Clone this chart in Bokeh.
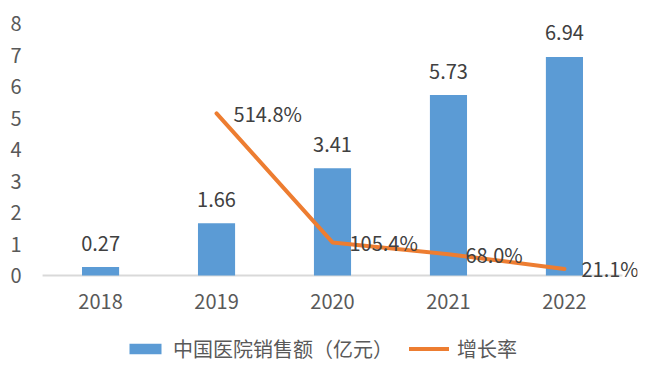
from bokeh.plotting import figure
from bokeh.layouts import column
from bokeh.models import FactorRange, Range1d, Legend, LegendItem, FixedTicker
from bokeh.core.properties import value
from bokeh.embed import file_html
from bokeh.resources import INLINE

years = ["2018", "2019", "2020", "2021", "2022"]
sales = [0.27, 1.66, 3.41, 5.73, 6.94]
sales_labels = ["0.27", "1.66", "3.41", "5.73", "6.94"]
growth_years = ["2019", "2020", "2021", "2022"]
growth = [514.8, 105.4, 68.0, 21.1]
growth_labels = ["514.8%", "105.4%", "68.0%", "21.1%"]
y_ticks = [0, 1, 2, 3, 4, 5, 6, 7, 8]
series_names = ["中国医院销售额（亿元）", "增长率"]

FONT = "Noto Sans CJK SC"
BAR = "#5B9BD5"
LINE = "#ED7D31"
TICK_C = "#595959"
LABEL_C = "#404040"

p = figure(width=646, height=320,
           x_range=FactorRange(*years, range_padding=0.13,
                               range_padding_units="absolute"),
           y_range=Range1d(-0.06, 8),
           output_backend="svg", toolbar_location=None,
           min_border_left=27, min_border_right=9,
           min_border_top=23, min_border_bottom=43)
p.extra_y_ranges = {"g": Range1d(-6, 800)}

p.outline_line_color = None
p.xgrid.grid_line_color = None
p.ygrid.grid_line_color = None

# category axis baseline spanning the categories only
p.segment(x0=[[years[0], -0.5]], x1=[[years[-1], 0.5]], y0=[0], y1=[0],
          line_color="#D9D9D9", line_width=2)

bars = p.vbar(x=years, top=sales, width=0.32, fill_color=BAR, line_color=None)
line = p.line(x=growth_years, y=growth, y_range_name="g", line_width=4,
              line_color=LINE, line_cap="round", line_join="round")

p.text(x=years, y=sales, text=sales_labels, text_align="center",
       text_baseline="middle", y_offset=-24, text_font_size="20px",
       text_color=LABEL_C, text_font=value(FONT))
p.text(x=growth_years, y=growth, y_range_name="g", text=growth_labels,
       text_align="left", text_baseline="middle", x_offset=17,
       text_font_size="20px", text_color=LABEL_C, text_font=value(FONT))

p.yaxis.ticker = FixedTicker(ticks=y_ticks)
p.yaxis.axis_line_color = None
p.yaxis.major_tick_line_color = None
p.yaxis.minor_tick_line_color = None
p.yaxis.major_label_standoff = 0
p.yaxis.major_label_text_font = FONT
p.yaxis.major_label_text_font_size = "20px"
p.yaxis.major_label_text_color = TICK_C

p.xaxis.axis_line_color = None
p.xaxis.major_tick_line_color = None
p.xaxis.minor_tick_line_color = None
p.xaxis.major_label_standoff = 10
p.xaxis.major_label_text_font = FONT
p.xaxis.major_label_text_font_size = "20px"
p.xaxis.major_label_text_color = TICK_C

# legend strip below the chart (series drawn hidden, only their legend shows)
lg = figure(width=646, height=65,
            x_range=FactorRange(*years), y_range=Range1d(0, 8),
            x_axis_type=None, y_axis_type=None,
            output_backend="svg", toolbar_location=None,
            min_border=0)
lg.extra_y_ranges = {"g": Range1d(0, 800)}
lg.outline_line_color = None
lg.xgrid.grid_line_color = None
lg.ygrid.grid_line_color = None
lb = lg.vbar(x=years, top=sales, width=0.32, fill_color=BAR, line_color=None,
             visible=False)
ll = lg.line(x=growth_years, y=growth, y_range_name="g", line_width=4,
             line_color=LINE, line_cap="round", visible=False)

legend = Legend(items=[LegendItem(label=series_names[0], renderers=[lb]),
                       LegendItem(label=series_names[1], renderers=[ll])],
                orientation="horizontal", location=(98, 22),
                glyph_width=40, glyph_height=13, label_standoff=8, spacing=16,
                label_text_font=FONT, label_text_font_size="20px",
                label_text_color=TICK_C, border_line_color=None,
                background_fill_alpha=0, margin=0, padding=0)
lg.add_layout(legend, "center")

layout = column(p, lg, spacing=0)
open("out.html", "w").write(file_html(layout, INLINE))
